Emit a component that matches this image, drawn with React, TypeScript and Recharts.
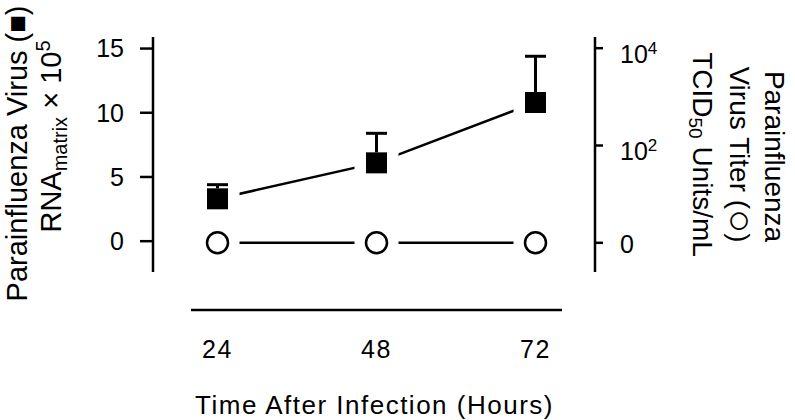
import { LineChart, Line, XAxis, YAxis, ErrorBar } from "recharts"

const FONT = "'Liberation Sans', Arial, Helvetica, sans-serif"

// hours after infection
const hours = [24, 48, 72]
// RNA matrix x 10^5 (filled squares) and upper error
const rnaMatrix = [3.3, 6.1, 10.8]
const rnaErrorUp = [1.1, 2.3, 3.6]
// virus titer, log10 position on right axis (open circles)
const virusTiter = [0, 0, 0]

const rnaTicks = [0, 5, 10, 15]
const titerTicks = [0, 2, 4]

const data = hours.map((hour, i) => ({
  hour,
  rna: rnaMatrix[i],
  rnaErr: [0, rnaErrorUp[i]],
  titer: virusTiter[i],
}))

const TiterTick = ({ x, y, payload }: any) => {
  const exp = payload.value
  if (exp === 0) {
    return (
      <text x={x} y={y + 10} fontSize={25} fontFamily={FONT} fill="#000">
        0
      </text>
    )
  }
  return (
    <text x={x} y={y + 15} fontSize={25} fontFamily={FONT} fill="#000">
      10
      <tspan fontSize={17} dy={-9}>
        {exp}
      </tspan>
    </text>
  )
}

const RnaLabel = ({ viewBox }: any) => {
  const { x, y, height } = viewBox
  const mid = y + height / 2
  const l1x = x + 27
  const l1y = mid - 1
  const l2x = x + 61
  const l2y = mid - 18
  return (
    <g fontFamily={FONT} fill="#000">
      <text x={l1x} y={l1y} transform={`rotate(-90, ${l1x}, ${l1y})`} textAnchor="middle" fontSize={29}>
        Parainfluenza Virus (■)
      </text>
      <text x={l2x} y={l2y} transform={`rotate(-90, ${l2x}, ${l2y})`} textAnchor="middle" fontSize={29}>
        RNA
        <tspan fontSize={20} dy={6}>matrix</tspan>
        <tspan dy={-6}> × 10</tspan>
        <tspan fontSize={20} dy={-11}>5</tspan>
      </text>
    </g>
  )
}

const TiterLabel = ({ viewBox }: any) => {
  const { x, y, height } = viewBox
  const mid = y + height / 2
  const lines = [
    { dx: 170, dy: 2, content: <>Parainfluenza</> },
    {
      dx: 135,
      dy: 0,
      content: (
        <>
          Virus Titer (<tspan fontSize={40} dy={3}>○</tspan>
          <tspan dy={-3}>)</tspan>
        </>
      ),
    },
    {
      dx: 98,
      dy: 0,
      content: (
        <>
          TCID
          <tspan fontSize={19} dy={4}>50</tspan>
          <tspan dy={-4}> Units/mL</tspan>
        </>
      ),
    },
  ]
  return (
    <g fontFamily={FONT} fill="#000">
      {lines.map((l, i) => {
        const tx = x + l.dx
        const ty = mid + l.dy
        return (
          <text key={i} x={tx} y={ty} transform={`rotate(90, ${tx}, ${ty})`} textAnchor="middle" fontSize={28}>
            {l.content}
          </text>
        )
      })}
    </g>
  )
}

const TimeLabel = ({ viewBox }: any) => {
  const { x, y, width, height } = viewBox
  return (
    <text
      x={x + width / 2 - 2}
      y={y + height - 6}
      textAnchor="middle"
      fontSize={26}
      fontFamily={FONT}
      letterSpacing={1.5}
      fill="#000"
    >
      Time After Infection (Hours)
    </text>
  )
}

// white band behind each marker leaves the gap between marker and line
const SquareDot = (p: any) => (
  <g key={`s${p.index}`}>
    <rect x={p.cx - 22} y={p.cy - 10.5} width={44} height={21} fill="#fff" />
    <rect x={p.cx - 10.5} y={p.cy - 10.5} width={21} height={21} fill="#000" />
  </g>
)

const CircleDot = (p: any) => (
  <g key={`c${p.index}`}>
    <rect x={p.cx - 22} y={p.cy - 10.5} width={44} height={21} fill="#fff" />
    <circle cx={p.cx} cy={p.cy} r={10.5} fill="#fff" stroke="#000" strokeWidth={2.5} />
  </g>
)

const axisStroke = { stroke: "#000", strokeWidth: 2.5 }

export default function App() {
  return (
    <div style={{ position: "absolute", left: 0, top: 0, width: 795, height: 420, background: "#fff" }}>
      <LineChart width={795} height={420} data={data} margin={{ top: 37, right: 0, bottom: 0, left: 0 }}>
        <XAxis
          xAxisId="a_main"
          dataKey="hour"
          type="number"
          domain={[20, 76]}
          ticks={hours}
          height={38}
          axisLine={false}
          tickLine={false}
          tick={false}
        />
        <XAxis
          xAxisId="b_frame"
          dataKey="hour"
          type="number"
          domain={[20, 76]}
          ticks={hours}
          height={110}
          axisLine={axisStroke}
          tickLine={false}
          tickMargin={24}
          tick={{ fontSize: 25, fill: "#000", fontFamily: FONT, letterSpacing: 1.5 }}
          label={<TimeLabel />}
        />
        <YAxis yAxisId="a_lpad" orientation="left" width={38} axisLine={false} tickLine={false} tick={false} />
        <YAxis
          yAxisId="b_rna"
          orientation="left"
          width={153}
          type="number"
          domain={[-2.4, 15.9]}
          allowDataOverflow
          ticks={rnaTicks}
          axisLine={axisStroke}
          tickLine={axisStroke}
          tickSize={13}
          tickMargin={16}
          tick={{ fontSize: 25, fill: "#000", fontFamily: FONT }}
          label={<RnaLabel />}
        />
        <YAxis yAxisId="a_rpad" orientation="right" width={33} axisLine={false} tickLine={false} tick={false} />
        <YAxis
          yAxisId="b_titer"
          orientation="right"
          width={200}
          type="number"
          domain={[-0.6, 4.23]}
          allowDataOverflow
          ticks={titerTicks}
          axisLine={axisStroke}
          tickLine={axisStroke}
          tickSize={8}
          tickMargin={17}
          tick={<TiterTick />}
          label={<TiterLabel />}
        />
        <Line
          xAxisId="a_main"
          yAxisId="b_titer"
          dataKey="titer"
          stroke="#000"
          strokeWidth={2.5}
          dot={CircleDot}
          activeDot={false}
          isAnimationActive={false}
        />
        <Line
          xAxisId="a_main"
          yAxisId="b_rna"
          dataKey="rna"
          stroke="#000"
          strokeWidth={2.5}
          dot={SquareDot}
          activeDot={false}
          isAnimationActive={false}
        >
          <ErrorBar dataKey="rnaErr" direction="y" width={10.5} stroke="#000" strokeWidth={3} isAnimationActive={false} />
        </Line>
      </LineChart>
    </div>
  )
}
